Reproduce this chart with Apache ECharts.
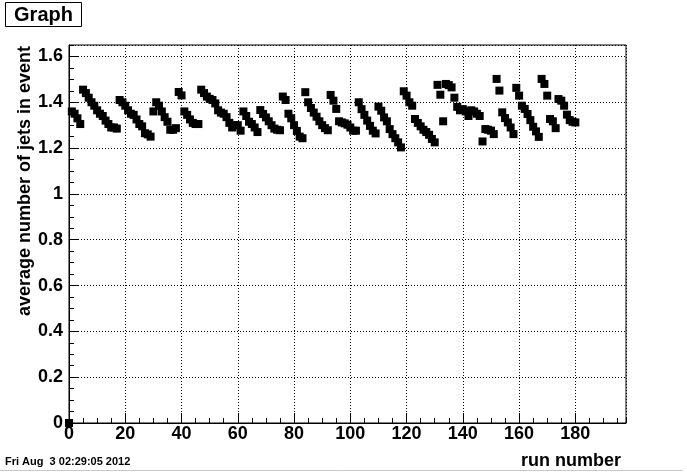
<!DOCTYPE html>
<html>
<head>
<meta charset="utf-8">
<script src="https://cdn.jsdelivr.net/npm/echarts@6/dist/echarts.min.js"></script>
<style>
html,body{margin:0;padding:0;background:#fff;}
#c{width:687px;height:472px;}
</style>
</head>
<body>
<div id="c"></div>
<script>
var runNumbers = [0,1,2,3,4,5,6,7,8,9,10,11,12,13,14,15,16,17,18,19,20,21,22,23,24,25,26,27,28,29,30,31,32,33,34,35,36,37,38,39,40,41,42,43,44,45,46,47,48,49,50,51,52,53,54,55,56,57,58,59,60,61,62,63,64,65,66,67,68,69,70,71,72,73,74,75,76,77,78,79,80,81,82,83,84,85,86,87,88,89,90,91,92,93,94,95,96,97,98,99,100,101,102,103,104,105,106,107,108,109,110,111,112,113,114,115,116,117,118,119,120,121,122,123,124,125,126,127,128,129,130,131,132,133,134,135,136,137,138,139,140,141,142,143,144,145,146,147,148,149,150,151,152,153,154,155,156,157,158,159,160,161,162,163,164,165,166,167,168,169,170,171,172,173,174,175,176,177,178,179,180];
var avgJets = [0,1.36,1.35,1.33,1.305,1.455,1.44,1.42,1.40,1.385,1.365,1.35,1.34,1.32,1.305,1.29,1.29,1.285,
1.41,1.40,1.385,1.365,1.35,1.345,1.325,1.305,1.295,1.265,1.26,1.25,
1.36,1.40,1.385,1.36,1.335,1.315,1.28,1.28,1.287,
1.445,1.43,1.36,1.345,1.325,1.31,1.305,1.305,
1.455,1.44,1.425,1.415,1.41,1.395,1.365,1.355,1.35,1.335,1.31,1.29,1.30,1.30,1.276,
1.36,1.34,1.315,1.305,1.29,1.27,
1.366,1.349,1.334,1.317,1.30,1.285,1.28,1.278,
1.425,1.41,1.35,1.33,1.30,1.275,1.25,1.243,
1.444,1.40,1.375,1.355,1.337,1.317,1.30,1.287,1.278,
1.432,1.407,1.371,1.317,1.312,1.308,1.302,1.29,1.276,1.276,
1.40,1.37,1.345,1.32,1.297,1.276,1.264,
1.381,1.363,1.334,1.317,1.283,1.261,1.243,1.225,1.203,
1.448,1.429,1.40,1.385,1.327,1.31,1.295,1.28,1.27,1.258,1.24,1.225,
1.476,1.433,1.317,1.48,1.475,1.465,1.42,1.38,1.365,1.37,1.36,1.34,1.365,1.36,1.35,1.34,
1.229,1.283,1.28,1.276,1.261,
1.502,1.451,1.356,1.331,1.312,1.29,1.261,
1.463,1.429,1.385,1.371,1.349,1.322,1.293,1.273,1.249,
1.502,1.48,1.429,1.327,1.317,1.287,
1.414,1.407,1.385,1.346,1.322,1.315,1.312];
var xTickValues = [0,20,40,60,80,100,120,140,160,180];
var yTickValues = [0,0.2,0.4,0.6,0.8,1,1.2,1.4,1.6];
var titleText = 'Graph';
var xTitle = 'run number';
var yTitle = 'average number of jets in event';
var dateText = 'Fri Aug  3 02:29:05 2012';

var FONT = 'Liberation Sans';
var points = runNumbers.map(function(r, i){ return [r, avgJets[i]]; });

function isMajor(v, step){
  var q = v / step;
  return Math.abs(q - Math.round(q)) < 1e-6;
}

var chart = echarts.init(document.getElementById('c'), null, {renderer:'canvas'});
chart.setOption({
  animation: false,
  backgroundColor: '#fff',
  grid: {left: 69, right: 61, top: 45, bottom: 49, show: true, borderColor: '#000', borderWidth: 1, backgroundColor: 'transparent'},
  xAxis: [{
    type: 'value', min: 0, max: 198, interval: 20,
    axisLine: {show: true, onZero: false, lineStyle: {color: '#000', width: 1}},
    axisTick: {show: true, inside: true, length: 10, lineStyle: {color: '#000'}},
    axisLabel: {color: '#000', fontFamily: FONT, fontWeight: 'bold', fontSize: 18, margin: 2,
      showMaxLabel: false,
      formatter: function(v){ return (isMajor(v, 20) && xTickValues.indexOf(Math.round(v)) >= 0) ? String(Math.round(v)) : ''; }},
    splitLine: {show: true, lineStyle: {color: '#000', width: 1, type: [1, 2]}}
  }, {
    type: 'value', min: 0, max: 198, interval: 5, position: 'bottom',
    axisLine: {show: false},
    axisTick: {show: true, inside: true, length: 5, lineStyle: {color: '#000'}},
    axisLabel: {show: false},
    splitLine: {show: false}
  }],
  yAxis: [{
    type: 'value', min: 0, max: 1.65, interval: 0.2,
    axisLine: {show: true, onZero: false, lineStyle: {color: '#000', width: 1}},
    axisTick: {show: true, inside: true, length: 10, lineStyle: {color: '#000'}},
    axisLabel: {color: '#000', fontFamily: FONT, fontWeight: 'bold', fontSize: 18, margin: 6,
      showMaxLabel: false,
      formatter: function(v){
        if (!isMajor(v, 0.2)) return '';
        var r = Math.round(v * 10) / 10;
        return yTickValues.indexOf(r) >= 0 ? String(r) : '';
      }},
    splitLine: {show: true, lineStyle: {color: '#000', width: 1, type: [1, 2]}}
  }, {
    type: 'value', min: 0, max: 1.65, interval: 0.05, position: 'left',
    axisLine: {show: false},
    axisTick: {show: true, inside: true, length: 5, lineStyle: {color: '#000'}},
    axisLabel: {show: false},
    splitLine: {show: false}
  }],
  series: [{
    type: 'scatter', xAxisIndex: 0, yAxisIndex: 0,
    data: points, symbol: 'rect', symbolSize: 8, clip: false,
    itemStyle: {color: '#000', opacity: 1}, z: 5,
    emphasis: {disabled: true}
  }],
  graphic: [
    {type: 'rect', shape: {x: 5.5, y: 2.5, width: 76, height: 24}, style: {fill: '#fff', stroke: '#000', lineWidth: 1}, z: 10},
    {type: 'text', x: 43.5, y: 15, style: {text: titleText, fill: '#000', font: 'bold 20px "Liberation Sans"', textAlign: 'center', textVerticalAlign: 'middle'}, z: 11},
    {type: 'text', x: 621, y: 461, style: {text: xTitle, fill: '#000', font: 'bold 18px "Liberation Sans"', textAlign: 'right', textVerticalAlign: 'middle'}, z: 11},
    {type: 'text', x: 25, y: 46, rotation: Math.PI / 2, style: {text: yTitle, fill: '#000', font: 'bold 18px "Liberation Sans"', textAlign: 'right', textVerticalAlign: 'middle'}, z: 11},
    {type: 'text', x: 5, y: 462, style: {text: dateText, fill: '#000', font: 'bold 11px "Liberation Sans"', textAlign: 'left', textVerticalAlign: 'middle'}, z: 11},
    {type: 'line', shape: {x1: 0, y1: 470.5, x2: 683, y2: 470.5}, style: {stroke: '#c8c8c8', lineWidth: 1}, z: 1}
  ]
});
</script>
</body>
</html>
